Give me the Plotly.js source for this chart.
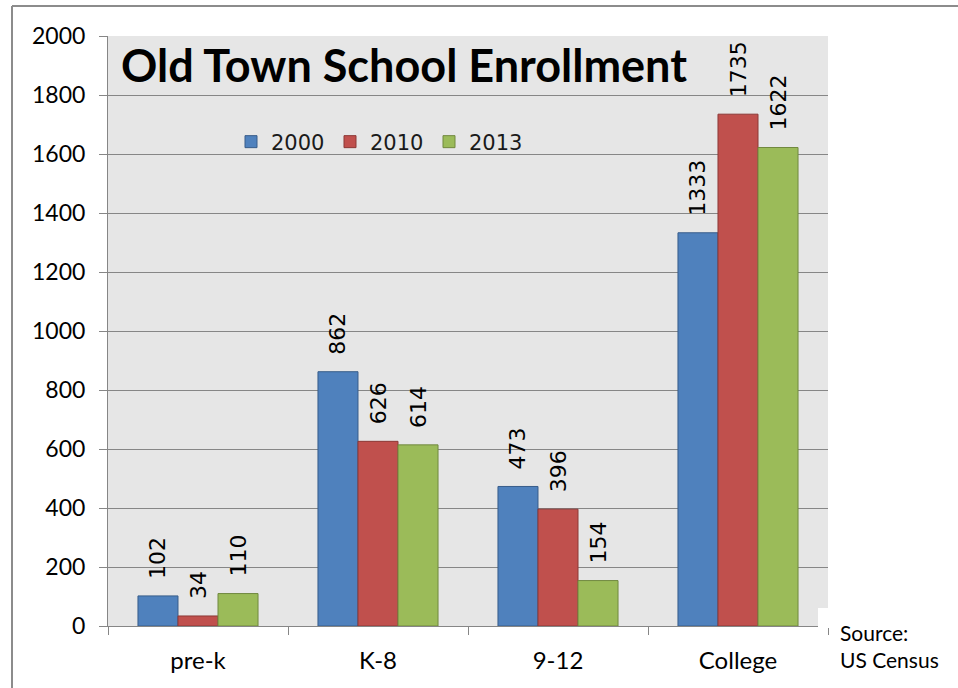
<!DOCTYPE html>
<html>
<head>
<meta charset="utf-8">
<script src="https://cdn.plot.ly/plotly-3.0.1.min.js"></script>
<style>
html,body{margin:0;padding:0;background:#fff;}
#chart{width:958px;height:688px;}
</style>
</head>
<body>
<div id="chart"></div>
<script>
const categories = ["pre-k", "K-8", "9-12", "College"];
const seriesNames = ["2000", "2010", "2013"];
const values2000 = [102, 862, 473, 1333];
const values2010 = [34, 626, 396, 1735];
const values2013 = [110, 614, 154, 1622];
const yTicks = [0, 200, 400, 600, 800, 1000, 1200, 1400, 1600, 1800, 2000];

const fills = ["#4f81bd", "#c0504d", "#9bbb59"];
const outlines = ["#385d8a", "#8c3836", "#71893f"];
const allValues = [values2000, values2010, values2013];

const traces = allValues.map((vals, i) => ({
  type: "bar",
  name: seriesNames[i],
  x: categories,
  y: vals,
  marker: {color: fills[i], line: {color: outlines[i], width: 1}},
  texttemplate: "\u00a0\u00a0%{y}",
  textposition: "outside",
  textangle: -90,
  constraintext: "none",
  cliponaxis: false,
  textfont: {family: "DejaVu Sans", size: 22, color: "#000"},
  hoverinfo: "skip"
}));

const L = 108, R = 828, T = 36, B = 626, W = 958, H = 688;
const px = x => (x - L) / (R - L);
const py = y => (B - y) / (B - T);
const gray = "#868686";

const layout = {
  width: W, height: H,
  margin: {l: L, r: W - R, t: T, b: H - B, pad: 0},
  paper_bgcolor: "#ffffff",
  plot_bgcolor: "#e6e6e6",
  barmode: "group",
  bargap: 0.333,
  bargroupgap: 0,
  showlegend: true,
  legend: {
    orientation: "h", x: px(231), xanchor: "left", y: py(142), yanchor: "middle",
    bgcolor: "rgba(0,0,0,0)", font: {family: "DejaVu Sans", size: 21, color: "#1a1a1a"},
    traceorder: "normal", entrywidth: 54, entrywidthmode: "pixels"
  },
  xaxis: {
    type: "category",
    showgrid: false, showline: true, linecolor: gray, linewidth: 1,
    ticks: "outside", tickson: "boundaries", ticklen: 8, tickcolor: gray,
    ticklabelstandoff: 13,
    tickfont: {family: "Lato", size: 24, color: "#000"},
    fixedrange: true
  },
  yaxis: {
    range: [0, 2000], tickvals: yTicks, ticktext: yTicks.map(String),
    showgrid: true, gridcolor: gray, gridwidth: 1,
    showline: true, linecolor: gray, linewidth: 1,
    ticks: "outside", ticklen: 8, tickcolor: gray,
    ticklabelstandoff: 9,
    tickfont: {family: "Lato", size: 23, color: "#000"},
    zeroline: false, fixedrange: true
  },
  annotations: [
    {text: "<b>Old Town School Enrollment</b>", xref: "paper", yref: "paper",
     x: px(119), y: py(36), xanchor: "left", yanchor: "top", showarrow: false,
     font: {family: "Lato", size: 45, color: "#000"}},
    {text: "Source:<br>US Census", xref: "paper", yref: "paper",
     x: px(838), y: py(618), xanchor: "left", yanchor: "top", align: "left", showarrow: false,
     font: {family: "Lato", size: 21, color: "#000"}}
  ],
  shapes: [
    {type: "rect", xref: "paper", yref: "paper", x0: px(818), x1: px(830), y0: py(628), y1: py(608),
     fillcolor: "#ffffff", line: {width: 0}, layer: "above"},
    {type: "line", xref: "paper", yref: "paper", x0: px(12), x1: px(960), y0: py(6), y1: py(6),
     line: {color: "#8c8c8c", width: 2}},
    {type: "line", xref: "paper", yref: "paper", x0: px(12), x1: px(12), y0: py(6), y1: py(690),
     line: {color: "#8c8c8c", width: 2}}
  ]
};

Plotly.newPlot("chart", traces, layout, {displayModeBar: false, staticPlot: true});
</script>
</body>
</html>
